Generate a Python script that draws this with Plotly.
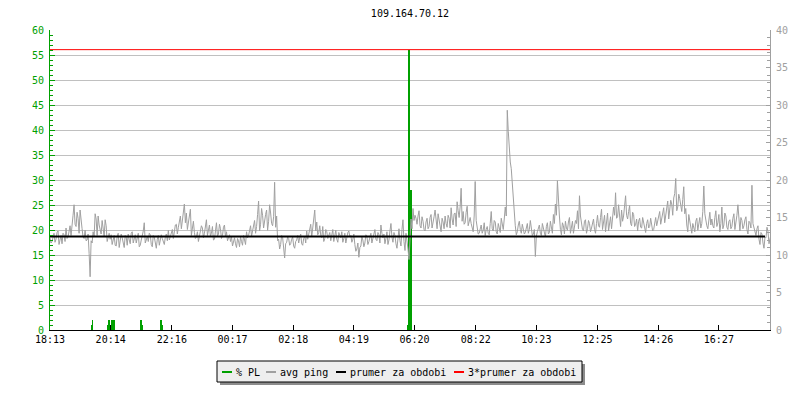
import plotly.graph_objects as go

# ---------------- data ----------------
title_text = "109.164.70.12"
tick_minutes = [0, 121, 243, 364, 485, 606, 727, 849, 970, 1092, 1213, 1334]
tick_labels = ["18:13", "20:14", "22:16", "00:17", "02:18", "04:19",
               "06:20", "08:22", "10:23", "12:25", "14:26", "16:27"]
x_end = 1436          # minutes shown after 18:13
ping_step = 2         # minutes between ping samples

# avg ping samples (ms) at even and odd 2-minute slots
ping_ms_even = [
    12.3, 11.8, 12.9, 12.1, 13.2, 12.0, 11.5, 12.7, 13.6, 12.4, 13.9, 14.5, 16.7, 13.8, 14.9,
    16.0, 13.5, 12.2, 11.9, 12.8, 7.1, 11.6, 12.4, 14.8, 15.2, 13.1, 14.6, 12.5, 13.9, 12.3,
    12.1, 11.4, 12.6, 11.2, 12.9, 11.7, 12.3, 11.0, 12.4, 12.8, 11.5, 13.1, 12.2, 11.6, 12.9,
    11.3, 12.5, 14.3, 12.0, 11.8, 12.7, 11.1, 12.4, 10.9, 12.6, 11.9, 12.2, 11.4, 12.8, 13.3,
    12.6, 13.4, 12.9, 14.1, 13.7, 15.2, 14.4, 16.8, 15.6, 14.2, 16.1, 13.9, 13.0, 12.4, 11.8,
    12.7, 13.6, 12.9, 14.7, 13.2, 12.5, 13.8, 12.1, 14.3, 12.8, 13.5, 12.6, 14.0, 13.1, 12.3,
    11.8, 11.2, 12.3, 11.0, 11.9, 12.4, 11.3, 12.0, 13.1, 12.6, 13.9, 13.4, 14.6, 13.8, 17.2,
    14.1, 15.3, 14.8, 16.0, 14.5, 15.6, 13.9, 19.7, 15.2, 12.1, 11.4, 12.3, 9.6, 11.7, 12.2,
    11.5, 12.4, 10.9, 12.0, 11.6, 12.8, 11.3, 12.5, 13.2, 12.7, 14.1, 13.6, 16.0, 14.4, 13.0,
    12.6, 13.8, 12.2, 13.1, 12.5, 11.9, 13.4, 12.7, 12.1, 13.0, 12.3, 11.7, 12.9, 12.4, 13.2,
    12.6, 12.1, 11.4, 10.8, 9.7, 11.2, 12.0, 11.6, 12.5, 11.8, 12.9, 12.2, 13.4, 11.9, 12.7,
    14.0, 12.3, 11.5, 13.1, 12.0, 14.2, 11.7, 12.6, 10.9, 13.5, 11.2, 14.7, 10.6, 12.1, 9.4,
    14.8, 16.2, 15.3, 14.1, 15.9, 13.6, 14.5, 13.2, 14.9, 13.8, 15.4, 14.2, 16.0, 13.5, 14.7,
    13.1, 14.4, 15.2, 13.7, 14.9, 16.3, 14.0, 15.6, 17.1, 15.0, 18.9, 15.8, 14.3, 16.5, 14.6,
    14.2, 13.1, 19.8, 13.6, 12.9, 14.0, 13.3, 12.6, 13.8, 12.7, 15.8, 13.2, 14.4, 12.8, 13.7,
    14.9, 13.4, 16.4, 29.3, 24.2, 21.5, 17.6, 13.9, 13.1, 14.5, 12.9, 13.6, 13.0, 14.2, 13.4,
    13.7, 12.8, 9.8, 13.1, 14.0, 12.6, 13.5, 12.4, 14.3, 13.0, 13.6, 15.4, 16.8, 19.9, 15.2,
    12.7, 13.9, 14.5, 13.3, 15.0, 13.8, 12.9, 14.6, 15.9, 17.9, 14.1, 13.2, 14.7, 13.5, 14.2,
    13.6, 14.8, 12.9, 15.3, 13.7, 16.1, 14.2, 13.1, 15.6, 14.4, 13.5, 16.4, 18.3, 15.1, 14.6,
    16.0, 15.2, 17.9, 14.8, 16.6, 13.9, 15.4, 14.1, 13.2, 14.9, 13.6, 14.3, 13.0, 14.7, 13.8,
    14.1, 13.4, 15.0, 14.5, 15.8, 14.7, 16.3, 15.5, 17.2, 15.9, 16.8, 17.6, 20.2, 16.4, 17.5,
    15.8, 19.1, 16.2, 13.1, 14.6, 12.9, 13.8, 14.5, 13.3, 15.0, 14.2, 19.2, 14.6, 13.5, 15.7,
    14.8, 13.6, 15.9, 14.3, 13.1, 16.4, 14.0, 15.2, 13.4, 14.7, 13.8, 15.5, 14.1, 16.7, 13.2,
    14.6, 13.9, 15.1, 12.8, 14.3, 19.3, 13.5, 12.6, 13.9, 11.4, 12.8, 10.9, 12.3, 13.1, 12.0,
]
ping_ms_odd = [
    11.6, 12.5, 11.7, 13.0, 11.4, 12.6, 12.9, 11.8, 12.2, 13.5, 12.6, 15.3, 14.1, 15.7, 12.9,
    14.2, 12.4, 13.3, 12.0, 10.2, 11.9, 13.1, 15.5, 12.6, 14.0, 12.8, 13.4, 14.7, 11.8, 12.9,
    12.7, 11.9, 11.3, 12.5, 11.0, 12.8, 11.5, 12.6, 11.3, 12.0, 12.9, 11.6, 12.7, 12.3, 11.1,
    12.0, 13.2, 11.6, 12.5, 12.9, 11.4, 12.6, 11.7, 12.1, 11.3, 12.7, 11.6, 12.4, 11.9, 12.0,
    13.0, 12.2, 14.0, 12.8, 14.6, 13.5, 15.9, 14.3, 13.4, 15.5, 12.6, 14.5, 12.2, 13.1, 12.5,
    13.9, 12.3, 14.1, 12.6, 14.0, 12.9, 12.0, 13.4, 12.5, 14.1, 12.2, 13.7, 12.4, 11.9, 12.7,
    12.4, 11.6, 11.5, 12.2, 11.1, 11.8, 12.6, 11.4, 12.3, 13.5, 12.5, 14.3, 12.9, 15.4, 13.2,
    16.2, 13.6, 15.4, 13.3, 16.7, 14.2, 15.1, 13.7, 11.9, 10.8, 12.6, 10.9, 11.5, 12.4, 11.3,
    12.1, 11.2, 11.8, 12.6, 12.3, 11.5, 12.2, 11.6, 12.1, 13.3, 12.4, 15.1, 13.2, 12.7, 13.9,
    12.3, 11.8, 13.4, 12.2, 13.0, 12.6, 11.8, 13.3, 11.7, 12.5, 13.1, 12.2, 11.6, 13.0, 12.4,
    11.7, 12.8, 10.5, 11.6, 11.0, 12.4, 11.1, 12.7, 11.4, 12.4, 11.6, 12.8, 12.1, 13.0, 11.6,
    12.9, 12.8, 12.2, 11.4, 13.2, 12.4, 13.0, 11.5, 12.2, 11.9, 13.4, 11.8, 12.9, 10.8, 12.6,
    13.5, 14.6, 14.9, 15.2, 13.9, 15.1, 13.4, 14.4, 13.5, 15.0, 13.6, 15.1, 14.3, 15.5, 13.8,
    14.9, 13.5, 14.2, 15.3, 13.6, 14.8, 15.5, 13.8, 15.9, 16.4, 14.5, 14.1, 15.7, 13.9, 15.0,
    13.5, 15.2, 14.6, 12.8, 13.7, 12.9, 14.3, 13.4, 12.9, 14.2, 13.5, 14.6, 13.1, 14.2, 13.0,
    13.8, 14.8, 15.2, 26.5, 22.4, 19.3, 15.1, 12.7, 14.0, 13.4, 14.1, 12.8, 13.9, 12.9, 14.6,
    12.6, 13.4, 12.5, 13.6, 12.9, 14.2, 12.7, 13.8, 12.8, 14.5, 12.9, 14.2, 15.3, 16.6, 13.4,
    14.3, 12.8, 13.6, 14.4, 12.9, 14.5, 13.7, 14.2, 13.5, 15.2, 13.4, 14.5, 12.9, 14.6, 13.1,
    14.5, 13.4, 14.2, 13.9, 15.0, 13.4, 15.3, 14.6, 13.2, 15.1, 14.7, 15.3, 14.9, 16.7, 13.8,
    14.5, 16.6, 15.3, 15.8, 14.2, 15.7, 13.8, 14.8, 14.5, 13.7, 15.0, 13.4, 14.2, 13.6, 14.9,
    13.2, 14.6, 13.9, 15.4, 14.1, 15.6, 14.3, 16.4, 14.8, 17.3, 15.3, 18.2, 15.9, 18.1, 16.3,
    17.4, 15.5, 14.0, 15.4, 13.5, 14.2, 13.1, 14.9, 14.4, 13.6, 15.8, 15.5, 13.9, 14.8, 14.0,
    13.9, 15.0, 13.8, 15.4, 14.2, 13.5, 15.6, 13.7, 14.5, 13.5, 14.9, 13.4, 15.3, 14.4, 15.0,
    13.5, 14.7, 13.4, 14.5, 13.6, 14.2, 12.8, 13.5, 12.1, 13.0, 11.6, 12.4, 13.7, 11.5, 12.8,
]
ping_ms = [v for pair in zip(ping_ms_even, ping_ms_odd) for v in pair]
ping_minutes = [i * ping_step for i in range(len(ping_ms))]

pl_minutes = [83, 85, 116, 118, 124, 126, 128, 181, 183, 222, 224, 713, 716, 718, 720]
pl_values = [1, 2, 1, 2, 2, 2, 2, 2, 1, 2, 1, 1, 56, 28, 28]

avg_ping = 12.46
series_names = ["% PL", "avg ping", "prumer za obdobi", "3*prumer za obdobi"]
series_colors = ["#00a000", "#a0a0a0", "#000000", "#ff0000"]

# ---------------- layout helpers ----------------
W, H = 800, 400
ML, MR, MT, MB = 50, 30, 30, 70
FONT = "DejaVu Sans Mono"


def px(x):
    return (x - ML) / (W - ML - MR)


def py(y):
    return (H - MB - y) / (H - MT - MB)


fig = go.Figure()

fig.add_trace(go.Bar(
    x=pl_minutes, y=pl_values, width=1.4, name=series_names[0],
    marker=dict(color=series_colors[0], line=dict(width=0)),
    yaxis="y", showlegend=False))

fig.add_trace(go.Scatter(
    x=ping_minutes, y=ping_ms, mode="lines", name=series_names[1],
    line=dict(color=series_colors[1], width=1), yaxis="y2", showlegend=False))

fig.add_trace(go.Scatter(
    x=[0, x_end - 10], y=[avg_ping, avg_ping], mode="lines", name=series_names[2],
    line=dict(color=series_colors[2], width=2), yaxis="y2", showlegend=False))

fig.add_trace(go.Scatter(
    x=[0, x_end], y=[3 * avg_ping, 3 * avg_ping], mode="lines", name=series_names[3],
    line=dict(color=series_colors[3], width=1), yaxis="y2", showlegend=False))

# ---------------- custom legend ----------------
shapes = []
annotations = []
box = (217, 361, 582, 382)
shapes.append(dict(type="rect", xref="paper", yref="paper",
                   x0=px(box[0] + 3), x1=px(box[2] + 3), y0=py(box[3] + 3), y1=py(box[1] + 3),
                   fillcolor="#8c8c8c", line=dict(width=0)))
shapes.append(dict(type="rect", xref="paper", yref="paper",
                   x0=px(box[0]), x1=px(box[2]), y0=py(box[3]), y1=py(box[1]),
                   fillcolor="#eeeeee", line=dict(color="#000000", width=1)))
legend_line_x = [(222, 232), (266, 276), (336, 346), (454, 464)]
legend_text_x = [236, 280, 350, 468]
ly = 372
for name, color, (a, b), tx in zip(series_names, series_colors, legend_line_x, legend_text_x):
    shapes.append(dict(type="line", xref="paper", yref="paper",
                       x0=px(a), x1=px(b), y0=py(ly), y1=py(ly),
                       line=dict(color=color, width=2)))
    annotations.append(dict(text=name, xref="paper", yref="paper",
                            x=px(tx), y=py(ly), xanchor="left", yanchor="middle",
                            xshift=-2, showarrow=False,
                            font=dict(family=FONT, size=10, color="#000000")))

fig.update_layout(
    width=W, height=H,
    margin=dict(l=ML, r=MR, t=MT, b=MB, pad=0),
    paper_bgcolor="#ffffff", plot_bgcolor="#ffffff",
    title=dict(text=title_text, x=0.5, xref="paper", xanchor="center",
               y=1 - 13 / H, yref="container", yanchor="middle",
               font=dict(family=FONT, size=10, color="#000000")),
    font=dict(family=FONT, size=10, color="#000000"),
    bargap=0,
    showlegend=False,
    shapes=shapes,
    annotations=annotations,
    xaxis=dict(range=[0, x_end], tickmode="array", tickvals=tick_minutes, ticktext=tick_labels,
               ticks="inside", ticklen=5, tickcolor="#000000", showline=True,
               linecolor="#000000", linewidth=1, showgrid=False, zeroline=False,
               tickfont=dict(family=FONT, size=10, color="#000000"), fixedrange=True),
    yaxis=dict(range=[0, 60], dtick=5, tick0=0, ticks="inside", ticklen=5,
               tickcolor="#00a000", showline=True, linecolor="#00a000", linewidth=1,
               showgrid=True, gridcolor="#c0c0c0", gridwidth=1, zeroline=False,
               ticklabelstandoff=3,
               minor=dict(dtick=1, ticks="inside", ticklen=3, tickcolor="#00a000", showgrid=False),
               tickfont=dict(family=FONT, size=10, color="#00a000")),
    yaxis2=dict(range=[0, 40], dtick=5, tick0=0, overlaying="y", side="right",
                ticks="inside", ticklen=4, tickcolor="#a0a0a0", showline=True,
                linecolor="#a0a0a0", linewidth=1, showgrid=False, zeroline=False,
                ticklabelstandoff=3,
                minor=dict(dtick=1, ticks="inside", ticklen=3, tickcolor="#a0a0a0", showgrid=False),
                tickfont=dict(family=FONT, size=10, color="#a0a0a0")),
)

fig.write_html("out.html", config={"displayModeBar": False},
               post_script="document.body.style.margin='0';")
